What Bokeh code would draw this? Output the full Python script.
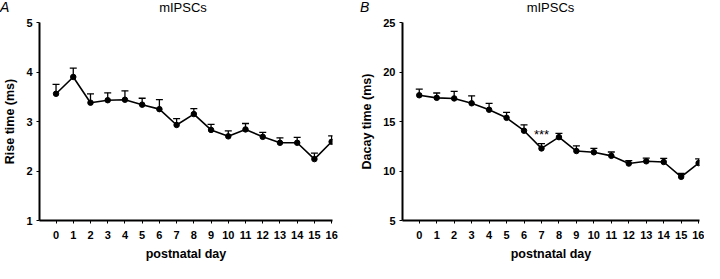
from bokeh.plotting import figure
from bokeh.layouts import row, column
from bokeh.models import Range1d, FixedTicker, Whisker, TeeHead, ColumnDataSource, Label, Div
from bokeh.embed import file_html
from bokeh.resources import INLINE

days = list(range(17))
day_labels = [str(d) for d in days]

rise = [3.56, 3.90, 3.38, 3.43, 3.44, 3.34, 3.25, 2.93, 3.15, 2.83, 2.70, 2.84, 2.69, 2.57, 2.57, 2.24, 2.59]
rise_err = [0.19, 0.18, 0.18, 0.15, 0.18, 0.13, 0.19, 0.13, 0.11, 0.11, 0.11, 0.12, 0.09, 0.10, 0.11, 0.12, 0.12]

decay = [17.65, 17.39, 17.33, 16.84, 16.19, 15.37, 14.07, 12.28, 13.42, 12.02, 11.89, 11.53, 10.75, 10.98, 10.91, 9.41, 10.80]
decay_err = [0.62, 0.49, 0.72, 0.75, 0.65, 0.56, 0.59, 0.49, 0.39, 0.52, 0.39, 0.39, 0.29, 0.32, 0.36, 0.36, 0.42]

rise_ticks = [1, 2, 3, 4, 5]
decay_ticks = [5, 10, 15, 20, 25]

panel_title = "mIPSCs"

FONT = "Liberation Sans"
W = 352
HEAD = 15
H = 248


def header(letter, letter_left, frame_left, frame_w):
    html = (
        f'<div style="position:relative;width:{W}px;height:{HEAD}px;'
        f'font-family:\'{FONT}\';color:black;font-size:13px;line-height:{HEAD}px;">'
        f'<span style="position:absolute;left:{letter_left}px;top:0;font-style:italic;font-size:14px;">{letter}</span>'
        f'<span style="position:absolute;left:{frame_left}px;top:0;width:{frame_w}px;text-align:center;">{panel_title}</span>'
        f'</div>'
    )
    return Div(text=html, width=W, height=HEAD, margin=0)


def make_panel(ylabel, vals, errs, yticks, bl, br, star=None):
    p = figure(width=W, height=H, output_backend="svg", toolbar_location=None,
               x_range=Range1d(-0.96, 16.05), y_range=Range1d(yticks[0], yticks[-1]),
               min_border_left=bl, min_border_right=br, min_border_top=7, min_border_bottom=40)
    p.outline_line_color = None
    p.grid.visible = False
    p.background_fill_color = "white"
    p.border_fill_color = "white"

    for ax in (p.xaxis[0], p.yaxis[0]):
        ax.axis_line_width = 2
        ax.axis_line_color = "black"
        ax.major_tick_line_color = "black"
        ax.major_tick_out = 3
        ax.major_tick_in = 0
        ax.minor_tick_line_color = None
        ax.major_label_text_font = FONT
        ax.major_label_text_font_style = "bold"
        ax.major_label_text_font_size = "11px"
        ax.major_label_text_color = "black"
        ax.axis_label_text_font = FONT
        ax.axis_label_text_font_style = "bold"
        ax.axis_label_text_font_size = "12.5px"
        ax.axis_label_text_color = "black"
        ax.major_label_standoff = 4
    p.xaxis.ticker = FixedTicker(ticks=days)
    p.xaxis.major_label_overrides = {d: s for d, s in zip(days, day_labels)}
    p.xaxis.major_label_standoff = 7
    p.xaxis.axis_label = "postnatal day"
    p.xaxis.axis_label_standoff = 5
    p.yaxis.ticker = FixedTicker(ticks=yticks)
    p.yaxis.axis_label = ylabel
    p.yaxis.axis_label_standoff = 6

    src = ColumnDataSource(dict(x=days, y=vals, up=[v + e for v, e in zip(vals, errs)]))
    w = Whisker(source=src, base="x", lower="y", upper="up", line_color="black", line_width=1.3,
                upper_head=TeeHead(size=7, line_color="black", line_width=1.3), lower_head=None)
    p.add_layout(w)
    p.line("x", "y", source=src, line_color="black", line_width=1.6)
    p.scatter("x", "y", source=src, size=5.5, fill_color="black", line_color="black")

    if star is not None:
        p.add_layout(Label(x=star[0], y=star[1], text="***", text_font=FONT, text_font_size="13px",
                           text_align="center", text_baseline="middle", text_color="black"))
    return p


p1 = make_panel("Rise time (ms)", rise, rise_err, rise_ticks, 34, 20)
p2 = make_panel("Dacay time (ms)", decay, decay_err, decay_ticks, 50, 5, star=(7, 13.7))

h1 = header("A", 0, 34, W - 34 - 20)
h2 = header("B", 8, 50, W - 50 - 5)

layout = row(column(h1, p1, spacing=0), column(h2, p2, spacing=0), spacing=0)
open("out.html", "w").write(file_html(layout, INLINE))
